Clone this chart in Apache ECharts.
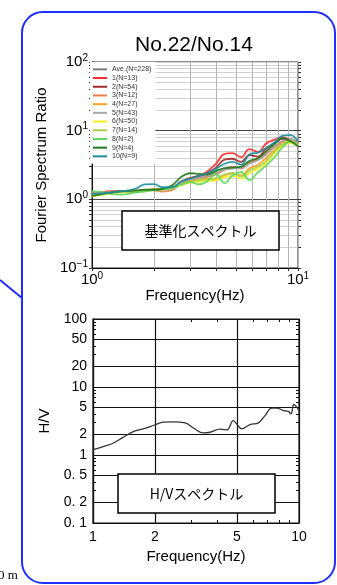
<!DOCTYPE html>
<html>
<head>
<meta charset="utf-8">
<script src="https://cdn.jsdelivr.net/npm/echarts@6/dist/echarts.min.js"></script>
<style>
html,body{margin:0;padding:0;background:#fff;}
#chart{width:337px;height:585px;}
</style>
</head>
<body>
<div id="chart"></div>
<script>
// --- data: normalized spectrum ratio (top) ---
var freq = [1, 1.1, 1.2, 1.35, 1.5, 1.65, 1.8, 2.0, 2.2, 2.45, 2.7, 3.0, 3.3, 3.6, 4.0, 4.4, 4.8, 5.3, 5.8, 6.4, 7.0, 7.7, 8.4, 9.2, 10]
var ave = [1.2, 1.22, 1.24, 1.27, 1.3, 1.33, 1.36, 1.4, 1.42, 1.48, 1.7, 1.95, 2.1, 2.2, 2.4, 2.7, 2.9, 2.9, 3.4, 3.8, 4.6, 5.8, 6.9, 7.5, 6.6]
var s1 = [1.22, 1.25, 1.3, 1.33, 1.28, 1.3, 1.35, 1.38, 1.4, 1.45, 1.72, 2.0, 2.2, 2.5, 3.3, 4.6, 4.7, 4.1, 5.4, 4.9, 6.5, 7.4, 8.0, 7.4, 6.6]
var s2 = [1.2, 1.22, 1.25, 1.3, 1.3, 1.32, 1.35, 1.4, 1.42, 1.48, 1.8, 2.05, 2.2, 2.35, 2.9, 3.8, 3.9, 3.5, 4.4, 4.2, 5.5, 6.6, 7.6, 7.3, 6.8]
var s3 = [1.25, 1.28, 1.3, 1.27, 1.28, 1.3, 1.36, 1.35, 1.3, 1.36, 1.7, 1.9, 2.0, 2.1, 2.3, 2.7, 3.0, 2.8, 3.4, 3.9, 4.7, 5.9, 7.0, 7.3, 6.4]
var s4 = [1.15, 1.2, 1.25, 1.3, 1.33, 1.35, 1.38, 1.4, 1.42, 1.5, 1.68, 1.85, 1.95, 2.0, 1.9, 2.25, 2.4, 2.25, 2.8, 3.2, 4.0, 5.3, 6.6, 7.1, 6.2]
var s5 = [1.2, 1.22, 1.25, 1.28, 1.3, 1.32, 1.36, 1.38, 1.4, 1.48, 1.75, 1.95, 2.05, 2.2, 2.45, 2.7, 2.8, 2.85, 3.3, 3.7, 4.5, 5.8, 7.0, 7.6, 6.8]
var s6 = [1.1, 1.15, 1.2, 1.25, 1.3, 1.32, 1.35, 1.38, 1.4, 1.45, 1.6, 1.75, 1.8, 1.85, 1.9, 2.1, 2.2, 2.0, 2.4, 2.8, 3.4, 4.7, 6.0, 6.6, 6.0]
var s7 = [1.15, 1.18, 1.22, 1.28, 1.3, 1.3, 1.33, 1.36, 1.38, 1.45, 1.65, 1.8, 1.9, 1.95, 2.05, 2.3, 2.4, 2.15, 2.6, 3.0, 3.6, 5.0, 6.3, 6.9, 6.2]
var s8 = [1.32, 1.28, 1.22, 1.17, 1.2, 1.26, 1.3, 1.36, 1.4, 1.46, 1.62, 1.78, 1.65, 1.8, 2.35, 1.72, 2.2, 2.5, 1.9, 2.5, 3.1, 4.1, 5.7, 7.0, 6.0]
var s9 = [1.12, 1.18, 1.24, 1.3, 1.32, 1.35, 1.38, 1.38, 1.42, 1.6, 2.1, 2.4, 2.35, 2.3, 2.6, 2.85, 2.9, 3.0, 3.6, 4.0, 5.0, 6.4, 7.8, 7.0, 5.9]
var s10 = [1.2, 1.22, 1.25, 1.3, 1.35, 1.45, 1.65, 1.66, 1.5, 1.5, 1.8, 2.0, 2.2, 2.4, 2.8, 3.3, 3.5, 3.2, 4.5, 4.8, 5.6, 6.8, 8.4, 8.6, 7.0]
var seriesNames = ['Ave.(N=228)', '1(N=13)', '2(N=54)', '3(N=12)', '4(N=27)', '5(N=43)', '6(N=50)', '7(N=14)', '8(N=2)', '9(N=4)', '10(N=9)']
var seriesColors = ['#7a7a7a', '#ff2a2a', '#a3282a', '#e5824e', '#ffa126', '#a6a6a6', '#f2f01e', '#a9d24a', '#5cd95c', '#1f7a1f', '#1f8f9f']
var seriesValues = [ave, s1, s2, s3, s4, s5, s6, s7, s8, s9, s10]

// --- data: H/V spectrum (bottom) ---
var hvFreq = [1, 1.12, 1.25, 1.4, 1.57, 1.75, 2.0, 2.19, 2.45, 2.8, 3.1, 3.43, 3.7, 4.14, 4.46, 4.8, 4.98, 5.27, 5.78, 6.35, 6.84, 7.37, 7.79, 8.39, 8.87, 9.14, 9.45, 9.75, 10]
var hvValues = [1.2, 1.33, 1.49, 1.82, 2.21, 2.42, 2.77, 3.04, 3.07, 2.97, 2.45, 2.11, 2.16, 2.4, 2.34, 3.21, 2.87, 2.42, 2.8, 2.97, 3.8, 4.9, 4.9, 4.51, 4.37, 4.03, 5.53, 5.06, 4.5]

// --- tick labels ---
var topXLabels = [1, 10]
var topYLabels = [0.1, 1, 10, 100]
var topMinor = [0.1, 0.2, 0.3, 0.4, 0.5, 0.6, 0.7, 0.8, 0.9, 1, 2, 3, 4, 5, 6, 7, 8, 9, 10, 20, 30, 40, 50, 60, 70, 80, 90, 100]
var xMinor = [1, 2, 3, 4, 5, 6, 7, 8, 9, 10]
var hvXLabels = [1, 2, 5, 10]
var hvXMinor = [3, 4, 6, 7, 8, 9]
var hvYLabels = [0.1, 0.2, 0.5, 1, 2, 5, 10, 20, 50, 100]
var hvYMinor = [0.3, 0.4, 0.6, 0.7, 0.8, 0.9, 3, 4, 6, 7, 8, 9, 30, 40, 60, 70, 80, 90]

var LATIN = '"Liberation Sans", Arial, sans-serif'
var JP = '"Noto Sans CJK JP", sans-serif'

function pairs(xs, ys) {
  return xs.map(function (x, i) { return [x, ys[i]] })
}
function supLabel(v) {
  var e = Math.round(Math.log10(v))
  return '{b|10}{s|' + (e < 0 ? '\u2212' + (-e) : e) + '}'
}
var richSup = {
  b: { fontSize: 15, fontFamily: LATIN, color: '#000' },
  s: { fontSize: 10, fontFamily: LATIN, color: '#000', padding: [0, 0, 8, 0] }
}
function hvLabel(v) {
  if (v < 1) return '0. ' + Math.round(v * 10)
  return String(Math.round(v))
}

var blank = { show: false }

var myChart = echarts.init(document.getElementById('chart'))
myChart.setOption({
  animation: false,
  title: {
    text: 'No.22/No.14',
    left: 135, top: 35, padding: 0,
    textStyle: { fontSize: 21, fontWeight: 'normal', fontFamily: LATIN, color: '#000' }
  },
  legend: {
    data: seriesNames,
    orient: 'vertical',
    left: 90, top: 62,
    padding: [3, 4, 3, 3],
    backgroundColor: '#fff',
    icon: 'rect',
    itemWidth: 14, itemHeight: 2, itemGap: 0,
    textStyle: { fontSize: 7, lineHeight: 8.7, color: '#333', fontFamily: LATIN },
    z: 5
  },
  grid: [
    { left: 92, top: 62, width: 206, height: 206, show: true, borderColor: '#222', borderWidth: 1 },
    { left: 93, top: 319, width: 206, height: 204, show: true, borderColor: '#111', borderWidth: 1.2 }
  ],
  xAxis: [
    {
      gridIndex: 0, type: 'log', logBase: 10, min: 1, max: 10,
      axisLine: { lineStyle: { color: '#111' } },
      axisTick: { customValues: xMinor, length: 3, lineStyle: { color: '#333' } },
      axisLabel: { customValues: topXLabels, formatter: supLabel, rich: richSup, margin: 3 },
      splitLine: { show: true, lineStyle: { color: '#b5b5b5', width: 1 } },
      name: 'Frequency(Hz)', nameLocation: 'middle', nameGap: 19,
      nameTextStyle: { fontSize: 15, fontFamily: LATIN, color: '#000' }
    },
    {
      gridIndex: 1, type: 'log', logBase: 10, min: 1, max: 10,
      axisLine: { lineStyle: { color: '#111', width: 1.2 } },
      axisTick: { customValues: hvXLabels, inside: true, length: 5, lineStyle: { color: '#111' } },
      axisLabel: { customValues: hvXLabels, margin: 7, fontSize: 14, fontFamily: LATIN, color: '#000' },
      splitLine: { show: true, lineStyle: { color: '#111', width: 1.2 } },
      name: 'Frequency(Hz)', nameLocation: 'middle', nameGap: 26,
      nameTextStyle: { fontSize: 15, fontFamily: LATIN, color: '#000' }
    },
    {
      gridIndex: 1, type: 'log', logBase: 10, min: 1, max: 10, position: 'bottom',
      axisLine: blank, axisLabel: blank, splitLine: blank,
      axisTick: { customValues: hvXMinor, inside: true, length: 3, lineStyle: { color: '#111' } }
    },
    {
      gridIndex: 1, type: 'log', logBase: 10, min: 1, max: 10, position: 'top',
      axisLine: blank, axisLabel: blank, splitLine: blank,
      axisTick: { customValues: hvXMinor.concat([2, 5]), inside: true, length: 3, lineStyle: { color: '#111' } }
    }
  ],
  yAxis: [
    {
      gridIndex: 0, type: 'log', logBase: 10, min: 0.1, max: 100,
      axisLine: { show: true, lineStyle: { color: '#111' } },
      axisTick: { customValues: topMinor, length: 3, lineStyle: { color: '#333' } },
      axisLabel: { customValues: topYLabels, formatter: supLabel, rich: richSup, margin: 4 },
      splitLine: { show: true, lineStyle: { color: '#d2d2d2', width: 1 } },
      name: 'Fourier Spectrum Ratio', nameLocation: 'middle', nameGap: 30,
      nameTextStyle: { fontSize: 15, fontFamily: LATIN, color: '#000' }
    },
    {
      gridIndex: 0, type: 'log', logBase: 10, min: 0.1, max: 100,
      axisLine: blank, axisLabel: blank,
      axisTick: { show: false, customValues: [1, 10] },
      splitLine: { show: true, lineStyle: { color: '#444', width: 1 } }
    },
    {
      gridIndex: 0, type: 'log', logBase: 10, min: 0.1, max: 100, position: 'right',
      axisLine: blank, axisLabel: blank, splitLine: blank,
      axisTick: { customValues: topMinor, length: 3, lineStyle: { color: '#333' } }
    },
    {
      gridIndex: 1, type: 'log', logBase: 10, min: 0.1, max: 100,
      axisLine: { show: true, lineStyle: { color: '#111', width: 1.2 } },
      axisTick: { customValues: hvYLabels, inside: true, length: 5, lineStyle: { color: '#111' } },
      axisLabel: { customValues: hvYLabels, formatter: hvLabel, margin: 6, fontSize: 14, fontFamily: LATIN, color: '#000' },
      splitLine: { show: true, lineStyle: { color: '#111', width: 1.2 } },
      name: 'H/V', nameLocation: 'middle', nameGap: 30,
      nameTextStyle: { fontSize: 15, fontFamily: LATIN, color: '#000' }
    },
    {
      gridIndex: 1, type: 'log', logBase: 10, min: 0.1, max: 100, position: 'left',
      axisLine: blank, axisLabel: blank, splitLine: blank,
      axisTick: { customValues: hvYMinor, inside: true, length: 3, lineStyle: { color: '#111' } }
    },
    {
      gridIndex: 1, type: 'log', logBase: 10, min: 0.1, max: 100, position: 'right',
      axisLine: blank, axisLabel: blank, splitLine: blank,
      axisTick: { customValues: hvYMinor.concat(hvYLabels), inside: true, length: 3, lineStyle: { color: '#111' } }
    }
  ],
  series: seriesValues.map(function (vals, i) {
    return {
      name: seriesNames[i], type: 'line',
      xAxisIndex: 0, yAxisIndex: 0,
      data: pairs(freq, vals),
      color: seriesColors[i],
      showSymbol: false, smooth: 0.4,
      lineStyle: { width: i === 0 ? 1 : 1.8, color: seriesColors[i], opacity: 0.9 },
      z: 3 + i
    }
  }).concat([{
    name: 'H/V', type: 'line',
    xAxisIndex: 1, yAxisIndex: 3,
    data: pairs(hvFreq, hvValues),
    showSymbol: false, smooth: 0.4,
    lineStyle: { width: 1.3, color: '#333' }
  }]),
  graphic: [
    { type: 'rect', shape: { x: 22, y: 12, width: 313, height: 571, r: 21 }, style: { fill: 'none', stroke: '#1f2dff', lineWidth: 2 }, silent: true },
    { type: 'line', shape: { x1: 0, y1: 280, x2: 22, y2: 298 }, style: { stroke: '#1f2dff', lineWidth: 2 }, silent: true },
    { type: 'text', x: -2, y: 576, style: { text: '0 m', font: '13px "Liberation Serif", serif', fill: '#000', verticalAlign: 'middle' } },
    { type: 'rect', shape: { x: 122, y: 211, width: 157, height: 39 }, style: { fill: '#fff', stroke: '#000', lineWidth: 1.5 }, z: 10 },
    { type: 'text', x: 200.5, y: 231, style: { text: '基準化スペクトル', font: '14px ' + JP, fill: '#000', align: 'center', verticalAlign: 'middle' }, z: 11 },
    { type: 'rect', shape: { x: 118, y: 474, width: 157, height: 39 }, style: { fill: '#fff', stroke: '#000', lineWidth: 1.5 }, z: 10 },
    { type: 'text', x: 196.5, y: 494, style: { text: 'H/Vスペクトル', font: '14px ' + JP, fill: '#000', align: 'center', verticalAlign: 'middle' }, z: 11 }
  ]
})
</script>
</body>
</html>
